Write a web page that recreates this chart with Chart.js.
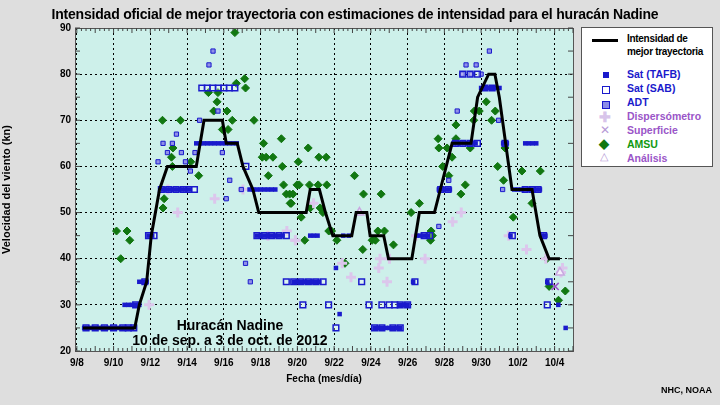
<!DOCTYPE html>
<html><head><meta charset="utf-8">
<script src="https://cdn.jsdelivr.net/npm/chart.js@4"></script>
<style>
body{margin:0;background:#dedede;width:720px;height:405px;overflow:hidden;font-family:"Liberation Sans",Arial,sans-serif;}
#wrap{position:absolute;left:0;top:0;width:720px;height:405px;}
#title{position:absolute;left:0;width:710px;top:6px;text-align:center;font-weight:bold;font-size:14px;color:#000;white-space:nowrap;letter-spacing:-0.2px;}
#ann{position:absolute;left:130px;top:318px;width:200px;text-align:center;font-weight:bold;font-size:14px;line-height:15px;color:#000;white-space:nowrap;}
#credit{position:absolute;right:8px;top:385px;font-size:9px;font-weight:bold;color:#000;}
#legend{position:absolute;left:581px;top:27px;width:130px;height:138px;background:#fff;border:1px solid #555;font-size:10.5px;font-weight:bold;white-space:nowrap;}
.li{position:absolute;left:56px;}
.sym{position:absolute;}
</style></head><body>
<div id="wrap"><canvas id="c" width="720" height="405"></canvas></div>
<div id="title">Intensidad oficial de mejor trayectoria con estimaciones de intensidad para el huracán Nadine</div>
<div id="ann">Huracán Nadine<br>10 de sep. a 3 de oct. de 2012</div>
<div id="credit">NHC, NOAA</div>
<div id="legend">
 <div class="sym" style="left:10px;top:11px;width:26px;height:3px;background:#000"></div>
 <div class="li" style="left:45px;top:4px;color:#000;line-height:13px;font-size:10px;letter-spacing:-0.3px">Intensidad de<br>mejor trayectoria</div>
 <div class="sym" style="left:21px;top:44px;width:6px;height:6px;background:#1a1acc"></div>
 <div class="li" style="left:45px;top:40px;color:#1a1acc">Sat (TAFB)</div>
 <div class="sym" style="left:20px;top:58px;width:6px;height:6px;border:1.5px solid #1a1acc"></div>
 <div class="li" style="left:45px;top:54px;color:#1a1acc">Sat (SAB)</div>
 <div class="sym" style="left:20px;top:73px;width:6px;height:6px;border:1px solid #1a1acc;background:#8c8ce8"></div>
 <div class="li" style="left:45px;top:68px;color:#1a1acc">ADT</div>
 <div class="li" style="left:17px;top:81px;color:#d8c4ea;font-size:14px">✚</div>
 <div class="li" style="left:45px;top:82px;color:#9a55c8">Dispersómetro</div>
 <div class="li" style="left:18px;top:95px;color:#b69ad6;font-size:12px;font-weight:normal">✕</div>
 <div class="li" style="left:45px;top:96px;color:#9a55c8">Superficie</div>
 <div class="li" style="left:17px;top:108px;color:#117711;font-size:13px">◆</div>
 <div class="li" style="left:45px;top:110px;color:#119911">AMSU</div>
 <div class="li" style="left:18px;top:122px;color:#b69ad6;font-size:11px;font-weight:normal">△</div>
 <div class="li" style="left:45px;top:124px;color:#9a55c8">Análisis</div>
</div>
<script>
// days since 9/8
const tickDays=[0,2,4,6,8,10,12,14,16,18,20,22,24,26];
const tickLabels=['9/8','9/10','9/12','9/14','9/16','9/18','9/20','9/22','9/24','9/26','9/28','9/30','10/2','10/4'];

const bestX=[0.33,3.15,3.4,3.8,4.05,4.5,4.93,6.5,6.92,7.92,8.13,8.73,9.04,9.58,9.9,12.48,12.7,13.2,13.53,13.93,14.96,15.2,15.78,15.96,16.7,16.96,18.23,18.64,19.46,19.78,20.42,21.45,21.81,22.41,22.75,22.99,23.68,24.77,25.2,25.7,26.29];
const bestY=[25,25,30,35,45,55,60,60,70,70,65,65,60,55,50,50,55,55,50,45,45,50,50,45,45,40,40,50,50,55,65,65,75,80,80,75,55,55,45,40,40];

const tafbX=[0.4,0.6,0.8,1.0,1.2,1.4,1.6,1.8,2.0,2.2,2.4,2.6,2.8,3.0, 2.6,2.8,3.0,3.2,3.4, 3.4,3.6,3.8, 3.9,4.1, 4.7,4.9,5.1,5.3,5.5,5.7,5.9,6.1, 6.5,6.7,6.9,7.1,7.3,7.5,7.7,7.9,8.1,8.3,8.5,8.7, 9.4,9.6,9.8,10.0,10.2,10.4,10.6,10.8, 9.8,10.0,10.2,10.4,10.6,10.8,11.0,11.2, 11.8,12.0,12.2,12.4,12.6,12.8,13.0,13.2, 12.7,12.9,13.1, 14.5,14.8, 14.1,14.3, 16.2,16.4,16.6,16.8,17.0,17.2,17.4,17.6, 17.6,17.8,18.0, 18.3, 18.5,18.7,18.9,19.1, 19.7,19.9,20.1,20.3, 20.5,20.7,20.9,21.1,21.3,21.5,21.7, 22.0,22.2,22.4,22.6,22.8,23.0, 23.2,23.4, 24.4,24.6,24.8,25.0, 23.8,24.0,24.2,24.4,24.6,24.8,25.0,25.2, 23.6, 25.3,25.5, 25.6, 26.2, 26.6];
const tafbY=[25,25,25,25,25,25,25,25,25,25,25,25,25,25, 30,30,30,30,30, 35,35,35, 45,45, 55,55,55,55,55,55,55,55, 65,65,65,65,65,65,65,65,65,65,65,65, 55,55,55,55,55,55,55,55, 45,45,45,45,45,45,45,45, 35,35,35,35,35,35,35,35, 45,45,45, 45,45, 38,28, 25,25,25,25,25,25,25,25, 30,30,30, 35, 45,45,45,45, 55,55,55,55, 65,65,65,65,65,65,65, 77,77,77,77,77,77, 65,65, 65,65,65,65, 55,55,55,55,55,55,55,55, 45, 45,45, 35, 30, 25];

const sabX=[0.5,1.0,1.5,2.0,2.5,2.8,3.1, 3.2, 3.7, 3.9,4.2, 4.6,5.0,5.4,5.8,6.1,6.4, 6.8,7.1,7.4,7.7,8.0,8.3,8.6, 9.2, 9.8,10.2,10.6,11.0,11.4, 11.4,11.8,12.2,12.6,13.0,13.4, 12.3, 13.7, 14.1, 15.5, 15.9, 16.2,16.6,17.2,17.6, 16.6,17.0,17.3,17.6,18.0, 18.4, 18.9,19.2, 19.8,20.2, 20.6,21.0,21.4,21.8, 21.0,21.4,21.8, 22.2,22.6, 23.3, 24.4,24.8,25.1, 23.7, 25.4, 25.7, 25.6];
const sabY=[25,25,25,25,25,25,25, 30, 35, 45,45, 55,55,55,55,55,55, 77,77,77,77,77,77,77, 60, 45,45,45,45,45, 35,35,35,35,35,35, 30, 30, 25, 35, 30, 25,25,25,25, 30,30,30,30,30, 35, 45,45, 55,55, 65,65,65,65, 80,80,80, 77,77, 65, 55,55,55, 45, 45, 35, 30];

const adtX=[7.41,7.19,6.68,7.68,4.69,5.2,5.42,4.93,5.69,6.43,7.92,4.42,5.91,6.18,8.32,8.13,8.95,9.18,9.44,22.45,21.18,21.73,20.96,21.45,22.0,20.7,22.95,19.7,20.24,23.17];
const adtY=[85,82,70,72,65,65,67,63,63,63,63,61,61,59,57,53,55,39,35,85,82,82,80,80,80,72,70,47,57,55];

const amsuX=[8.6,8.68,9.13,9.18,7.16,7.68,7.63,7.45,8.17,8.46,7.92,8.23,4.66,5.64,9.64,10.16,5.23,5.15,5.2,6.2,6.63,4.75,4.69,2.16,2.73,2.88,2.39,11.13,10.09,10.3,10.67,11.18,10.42,11.25,11.4,11.58,11.76,11.61,12.05,11.98, 11.67,12.59,12.1,12.21,12.4,12.66,13.13,13.6,13.17,13.57,12.7,13.24,13.39,13.71,13.86,14.15,14.59,15.11,15.6,15.56,16.07,16.25,16.38,16.74,16.56,17.23,18.19,18.64,19.28,19.35,19.25,19.66,19.7,20.15,20.63,20.63,20.42,19.91,20.24,21.14,20.9,21.41,21.6,21.63,21.9,22.28,22.57,22.77,22.9,23.22,23.3,23.75,24.22,24.77,25.22,25.58,25.7,26.21,26.58];
const amsuY=[89,78,79,77,76,76,74,72,72,70,68,68,70,70,70,65,64,62,60,61,58,53,51,46,46,44,40,66,62,62,62,60,58,56,54,54,54,52,61,56, 52,64,56,49,44,56,56,56,62,62,51,51,50,46,46,44,39,58,54,42,44,44,46,46,54,43,50,52,46,45,44,66,64,64,66,69,62,60,58,56,54,64,70,72,72,74,70,72,60,57,64,49,59,52,59,40,34,31,33];

const scatX=[4.96,5.49,7.5,9.04,10.4,11.43,11.89,3.93,11.9,12.88,14.44,14.92,16.43,16.5,16.88,17.01,18.46,18.95,20.45,20.92,23.5,24.47,25.52,26.43,26.35];
const scatY=[55,50,53,55,45,46,44,30,44,52,39,36,38,40,35,40,45,40,48,50,45,42,40,38,37];

const sfcX=[26.03];
const sfcY=[34];
const anaX=[15.38,26.29];
const anaY=[50,37];

const pts=(xs,ys)=>xs.map((x,i)=>({x:x,y:ys[i]}));
const bgPlugin={id:'bg',beforeDraw(ch){const a=ch.chartArea,c=ch.ctx;c.save();c.fillStyle='#cdf0ea';c.fillRect(a.left,a.top,a.right-a.left,a.bottom-a.top);c.restore();},
 afterDraw(ch){const a=ch.chartArea,c=ch.ctx;c.save();c.strokeStyle='#555';c.lineWidth=1;c.strokeRect(a.left+0.5,a.top+0.5,a.right-a.left,a.bottom-a.top);
 const xs=ch.scales.x,ys=ch.scales.y;c.strokeStyle='#444';
 for(let d=0;d<=27;d+=0.25){const px=xs.getPixelForValue(d);const L=(d%1===0)?5:3;c.beginPath();c.moveTo(px,a.bottom);c.lineTo(px,a.bottom-L);c.moveTo(px,a.top);c.lineTo(px,a.top+L);c.stroke();}
 for(let v=20;v<=90;v+=5){const py=ys.getPixelForValue(v);c.beginPath();c.moveTo(a.left,py);c.lineTo(a.left+5,py);c.moveTo(a.right,py);c.lineTo(a.right-5,py);c.stroke();}
 c.restore();}};
const ch=new Chart(document.getElementById('c'),{
 type:'scatter',
 data:{datasets:[
  {data:pts(bestX,bestY),showLine:true,borderColor:'#000',borderWidth:3,pointRadius:0,order:0},
  {data:pts(amsuX,amsuY),pointStyle:'rectRot',pointRadius:4,backgroundColor:'#117711',borderColor:'#117711',order:5},
  {data:pts(scatX,scatY),pointStyle:'cross',pointRadius:5,borderWidth:3,borderColor:'#dcc6ec',order:4},
  {data:pts(sfcX,sfcY),pointStyle:'crossRot',pointRadius:5,borderWidth:1.5,borderColor:'#9a55c8',order:3},
  {data:pts(anaX,anaY),pointStyle:'triangle',pointRadius:5,borderWidth:1.5,borderColor:'#c8a8e0',backgroundColor:'#f4eefa',order:3},
  {data:pts(sabX,sabY),pointStyle:'rect',pointRadius:4,borderWidth:1.5,borderColor:'#1a1acc',backgroundColor:'rgba(255,255,255,0.3)',order:2},
  {data:pts(adtX,adtY),pointStyle:'rect',pointRadius:3,borderWidth:1,borderColor:'#1a1acc',backgroundColor:'#9090e8',order:2},
  {data:pts(tafbX,tafbY),pointStyle:'rect',pointRadius:3.2,borderWidth:0,backgroundColor:'#1a1acc',order:1}
 ]},
 plugins:[bgPlugin],
 options:{responsive:false,animation:false,events:[],
  layout:{padding:{left:0,top:28,right:147,bottom:20}},
  plugins:{legend:{display:false},tooltip:{enabled:false}},
  scales:{
   x:{type:'linear',min:-0.1,max:27,afterBuildTicks(s){s.ticks=tickDays.map(v=>({value:v}));},
     afterFit(s){s.height=34;},
     ticks:{autoSkip:false,maxRotation:0,color:'#000',font:{family:'Liberation Sans',size:10,weight:'bold'},padding:6,callback:(v)=>{const i=tickDays.indexOf(v);return i>=0?tickLabels[i]:'';}},
     grid:{color:'#000',lineWidth:1,drawTicks:false,tickLength:0},border:{display:false,dash:[2,3]},
     title:{display:true,text:'Fecha (mes/día)',color:'#000',font:{family:'Liberation Sans',size:10,weight:'bold'},padding:{top:2,bottom:0}}},
   y:{min:20,max:90,afterFit(s){s.width=75;},
     ticks:{stepSize:10,color:'#000',font:{family:'Liberation Sans',size:10,weight:'bold'},padding:4},
     grid:{color:'#000',lineWidth:1,drawTicks:false},border:{display:false,dash:[2,3]},
     title:{display:true,text:'Velocidad del viento (kn)',color:'#000',font:{family:'Liberation Sans',size:11,weight:'bold'},padding:{top:0,bottom:6}}}
  }}
});
</script></body></html>
